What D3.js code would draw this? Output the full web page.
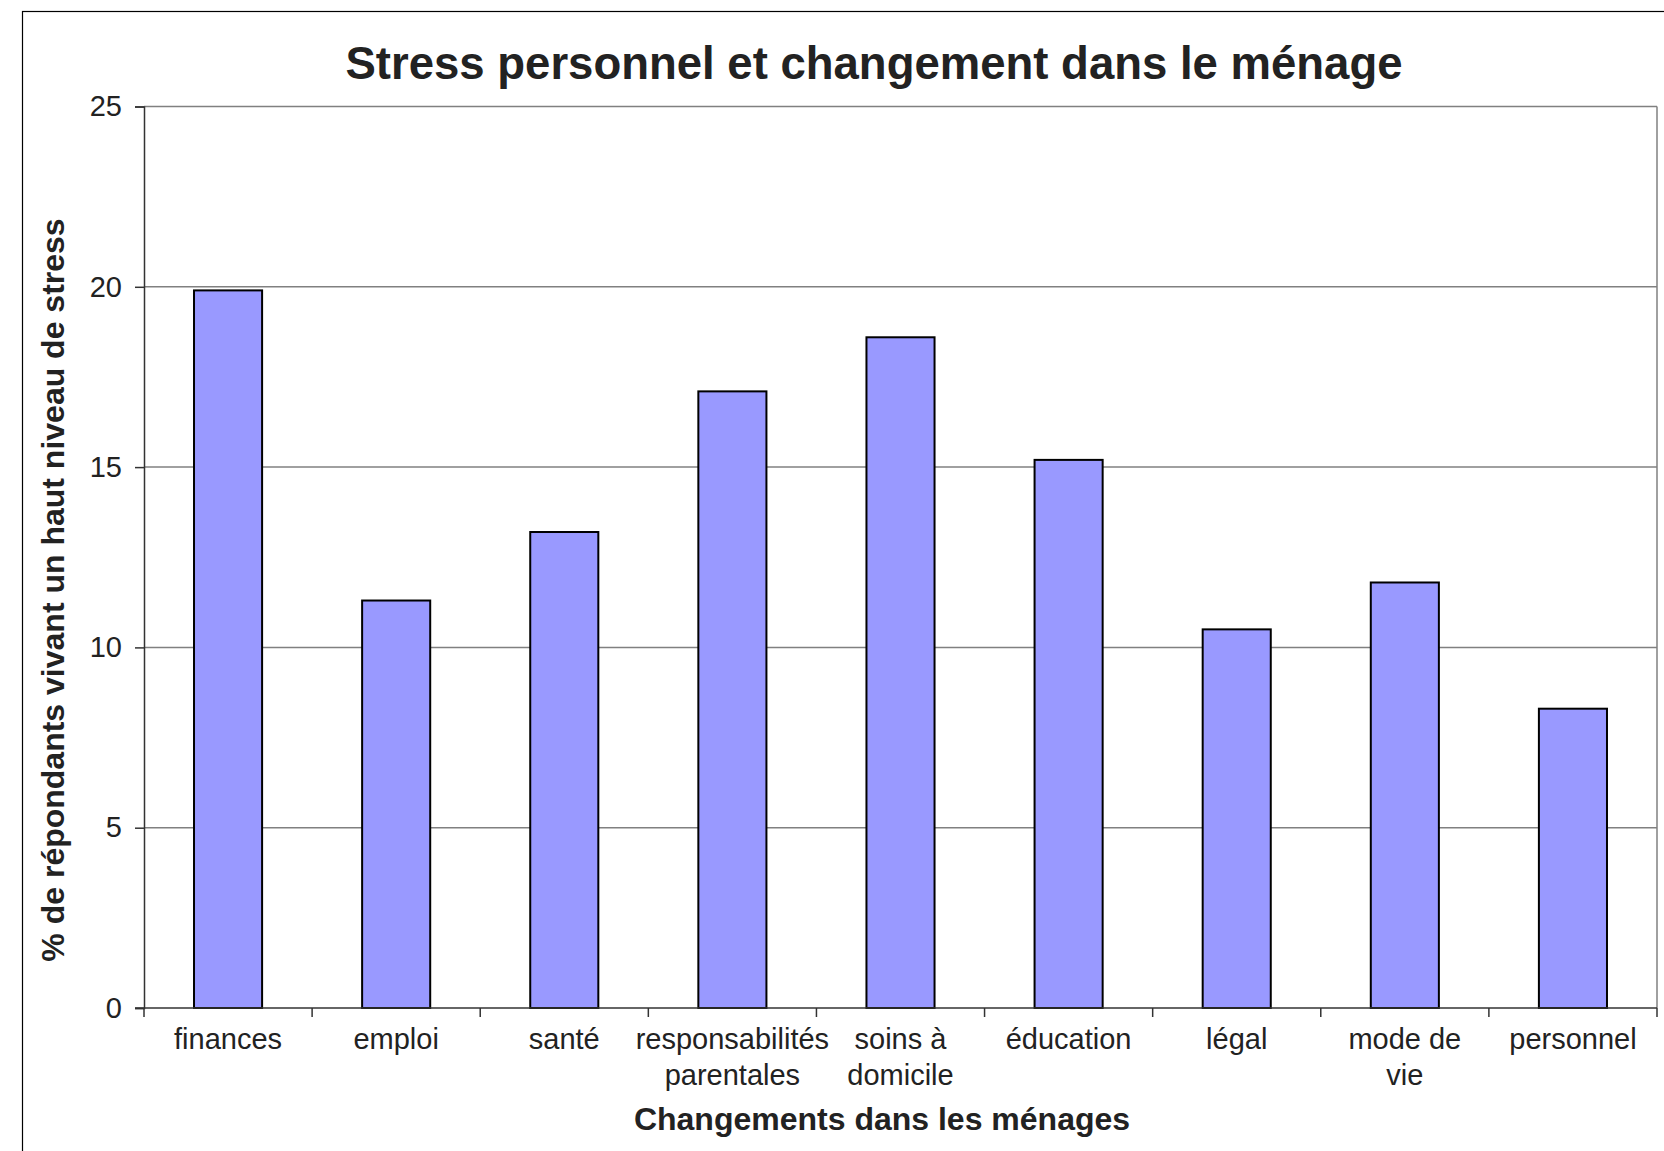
<!DOCTYPE html>
<html>
<head>
<meta charset="utf-8">
<script src="https://cdn.jsdelivr.net/npm/d3@7"></script>
<style>
  html, body { margin: 0; padding: 0; background: #fff; }
  svg { display: block; }
  text { font-family: "Liberation Sans", Arial, sans-serif; fill: #222; }
</style>
</head>
<body>
<script>
const categories = [
  ["finances"],
  ["emploi"],
  ["santé"],
  ["responsabilités", "parentales"],
  ["soins à", "domicile"],
  ["éducation"],
  ["légal"],
  ["mode de", "vie"],
  ["personnel"]
];
const values = [19.9, 11.3, 13.2, 17.1, 18.6, 15.2, 10.5, 11.8, 8.3];
const yTicks = [0, 5, 10, 15, 20, 25];
const title = "Stress personnel et changement dans le ménage";
const xTitle = "Changements dans les ménages";
const yTitle = "% de répondants vivant un haut niveau de stress";

const W = 1664, H = 1151;
const plot = { left: 144, right: 1657, top: 106.5, bottom: 1008 };

const svg = d3.select("body").append("svg").attr("width", W).attr("height", H);

// outer chart border (extends beyond the visible frame)
svg.append("rect")
  .attr("x", 22.5).attr("y", 11.5)
  .attr("width", 1720).attr("height", 1200)
  .attr("fill", "none").attr("stroke", "#000").attr("stroke-width", 1.2);

const keys = categories.map((c, i) => i);
const x = d3.scaleBand().domain(keys).range([plot.left, plot.right]).padding(0);
const y = d3.scaleLinear().domain([0, 25]).range([plot.bottom, plot.top]);
const barFrac = 0.405;

// gridlines
svg.append("g").selectAll("line").data(yTicks.filter(t => t > 0)).join("line")
  .attr("x1", plot.left).attr("x2", plot.right)
  .attr("y1", d => y(d)).attr("y2", d => y(d))
  .attr("stroke", "#808080").attr("stroke-width", 1.5);

// right border of plot
svg.append("line")
  .attr("x1", plot.right).attr("x2", plot.right)
  .attr("y1", plot.top).attr("y2", plot.bottom)
  .attr("stroke", "#808080").attr("stroke-width", 1.5);

// bars
svg.append("g").selectAll("rect").data(values).join("rect")
  .attr("x", (d, i) => x(i) + x.bandwidth() * (1 - barFrac) / 2)
  .attr("width", x.bandwidth() * barFrac)
  .attr("y", d => y(d))
  .attr("height", d => y(0) - y(d))
  .attr("fill", "#9999FF")
  .attr("stroke", "#000").attr("stroke-width", 2);

// y axis
const yAxis = svg.append("g").attr("transform", `translate(${plot.left},0)`)
  .call(d3.axisLeft(y).tickValues(yTicks).tickSize(9).tickPadding(13).tickFormat(d3.format("d")));
yAxis.select(".domain").attr("stroke", "#333").attr("stroke-width", 1.5);
yAxis.selectAll(".tick line").attr("stroke", "#333").attr("stroke-width", 1.5);
yAxis.selectAll(".tick text")
  .style("font-family", "'Liberation Sans', Arial, sans-serif")
  .style("font-size", "29px").attr("fill", "#222");

// x axis with ticks at category boundaries
const bounds = keys.map(i => x(i)).concat([plot.right]);
const xg = svg.append("g");
xg.append("line")
  .attr("x1", plot.left - 9).attr("x2", plot.right)
  .attr("y1", plot.bottom).attr("y2", plot.bottom)
  .attr("stroke", "#333").attr("stroke-width", 1.5);
xg.selectAll("line.tk").data(bounds).join("line").attr("class", "tk")
  .attr("x1", d => d).attr("x2", d => d)
  .attr("y1", plot.bottom).attr("y2", plot.bottom + 9)
  .attr("stroke", "#333").attr("stroke-width", 1.5);

const lbl = xg.selectAll("text.cat").data(categories).join("text").attr("class", "cat")
  .attr("text-anchor", "middle")
  .style("font-size", "29px");
lbl.each(function(lines, i) {
  const t = d3.select(this);
  lines.forEach((ln, j) => {
    t.append("tspan")
      .attr("x", x(i) + x.bandwidth() / 2)
      .attr("y", 1049 + j * 36)
      .text(ln);
  });
});

// titles
svg.append("text")
  .attr("x", 874).attr("y", 78.5)
  .attr("text-anchor", "middle")
  .style("font-size", "45.5px").style("font-weight", "bold")
  .text(title);

svg.append("text")
  .attr("x", 882).attr("y", 1130)
  .attr("text-anchor", "middle")
  .style("font-size", "32px").style("font-weight", "bold")
  .text(xTitle);

svg.append("text")
  .attr("transform", "translate(64,590) rotate(-90)")
  .attr("text-anchor", "middle")
  .style("font-size", "32px").style("font-weight", "bold")
  .text(yTitle);
</script>
</body>
</html>
